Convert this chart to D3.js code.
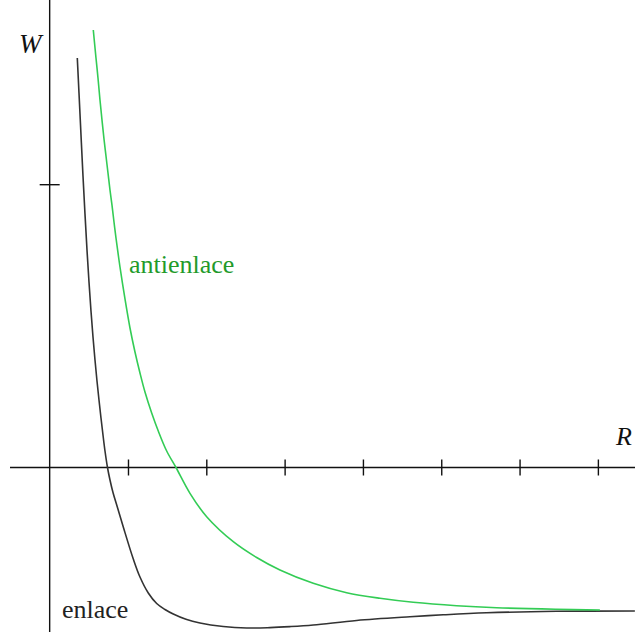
<!DOCTYPE html>
<html>
<head>
<meta charset="utf-8">
<script src="https://cdn.jsdelivr.net/npm/d3@7"></script>
<style>
  html, body { margin: 0; padding: 0; background: #fff; }
  svg { display: block; }
  text { font-family: "Liberation Serif", "DejaVu Serif", serif; }
</style>
</head>
<body>
<svg id="chart" width="635" height="632"></svg>
<script>
// Potential energy W versus internuclear distance R

// bonding curve ("enlace")
const bondR = [0.3527, 0.3744, 0.4000, 0.4255, 0.4510, 0.4766, 0.5021, 0.5276, 0.5532, 0.5787, 0.6042, 0.6298, 0.6553,
               0.6808, 0.7064, 0.7383, 0.7702, 0.8085, 0.8638, 0.9400, 1.0677, 1.1531, 1.2592, 1.3664, 1.4723, 1.5783,
               1.7405, 1.9192, 2.2166, 2.5154, 2.8128, 3.0682, 3.3656, 3.9197, 4.6002, 5.0253, 5.5793, 6.4730, 7.4725];
const bondW = [1.4455, 1.3219, 1.1737, 1.0289, 0.8948, 0.7677, 0.6548, 0.5524, 0.4606, 0.3795, 0.3053, 0.2383, 0.1747,
               0.1147, 0.0582, 0.0000, -0.0441, -0.0882, -0.1394, -0.2100, -0.3230, -0.3865, -0.4430, -0.4801, -0.5012, -0.5171,
               -0.5358, -0.5489, -0.5612, -0.5665, -0.5651, -0.5616, -0.5559, -0.5401, -0.5270, -0.5200, -0.5129, -0.5076, -0.5065];

// antibonding curve ("antienlace")
const antiR = [0.5570, 0.5915, 0.6170, 0.6425, 0.6681, 0.6936, 0.7191, 0.7447, 0.7702, 0.7957, 0.8213, 0.8468, 0.8979,
               0.9617, 1.0256, 1.0894, 1.1532, 1.2170, 1.3026, 1.3868, 1.4941, 1.6128, 1.7915, 2.0047, 2.3443, 2.6430,
               2.9405, 3.3656, 3.7920, 4.2171, 4.6422, 5.1963, 5.7069, 6.4730, 7.0258];
const antiW = [1.5443, 1.4455, 1.3749, 1.2972, 1.2266, 1.1595, 1.0995, 1.0395, 0.9795, 0.9265, 0.8666, 0.8101, 0.7077,
               0.5948, 0.4924, 0.4077, 0.3336, 0.2665, 0.1924, 0.1288, 0.0582, 0.0000, -0.0911, -0.1737, -0.2619, -0.3177,
               -0.3618, -0.4088, -0.4420, -0.4617, -0.4758, -0.4878, -0.4949, -0.5005, -0.5030];

const xTicks = [1, 2, 3, 4, 5, 6, 7];
const yTicks = [1];
const curveLabels = ["antienlace", "enlace"];
const axisLabels = ["W", "R"];

const svg = d3.select("#chart");
const W = 635, H = 632;

const x = d3.scaleLinear().domain([0, 7.474]).range([49.67, 635]);
const y = d3.scaleLinear().domain([0, 1]).range([467.5, 184.2]);

// axes lines crossing at the origin
svg.append("line")
  .attr("x1", 10).attr("x2", W)
  .attr("y1", y(0)).attr("y2", y(0))
  .attr("stroke", "#111").attr("stroke-width", 1.4);
svg.append("line")
  .attr("x1", x(0)).attr("x2", x(0))
  .attr("y1", 0).attr("y2", H)
  .attr("stroke", "#111").attr("stroke-width", 1.4);

// tick marks crossing the axes
const xAxis = svg.append("g")
  .attr("transform", `translate(0,${y(0) - 8})`)
  .call(d3.axisBottom(x).tickValues(xTicks).tickSize(16).tickFormat(""));
xAxis.select(".domain").remove();
xAxis.selectAll(".tick line").attr("stroke", "#111").attr("stroke-width", 1.4);

const yAxis = svg.append("g")
  .attr("transform", `translate(${x(0) - 10},0)`)
  .call(d3.axisRight(y).tickValues(yTicks).tickSize(20).tickFormat(""));
yAxis.select(".domain").remove();
yAxis.selectAll(".tick line").attr("stroke", "#111").attr("stroke-width", 1.4);

const line = d3.line()
  .x(d => x(d[0]))
  .y(d => y(d[1]))
  .curve(d3.curveCatmullRom.alpha(0.5));

const bond = bondR.map((r, i) => [r, bondW[i]]);
const anti = antiR.map((r, i) => [r, antiW[i]]);

svg.append("path")
  .datum(bond)
  .attr("d", line)
  .attr("fill", "none")
  .attr("stroke", "#333")
  .attr("stroke-width", 1.6);

svg.append("path")
  .datum(anti)
  .attr("d", line)
  .attr("fill", "none")
  .attr("stroke", "#33cc55")
  .attr("stroke-width", 1.6);

// curve labels
svg.append("text")
  .attr("x", 129).attr("y", 273)
  .attr("font-size", 26)
  .attr("fill", "#229a2a")
  .text(curveLabels[0]);

svg.append("text")
  .attr("x", 62).attr("y", 618)
  .attr("font-size", 26)
  .attr("fill", "#222")
  .text(curveLabels[1]);

// axis names
svg.append("text")
  .attr("x", 19).attr("y", 53)
  .attr("font-size", 27)
  .attr("font-style", "italic")
  .attr("fill", "#111")
  .text(axisLabels[0]);

svg.append("text")
  .attr("x", 616).attr("y", 445)
  .attr("font-size", 26)
  .attr("font-style", "italic")
  .attr("fill", "#111")
  .text(axisLabels[1]);
</script>
</body>
</html>
